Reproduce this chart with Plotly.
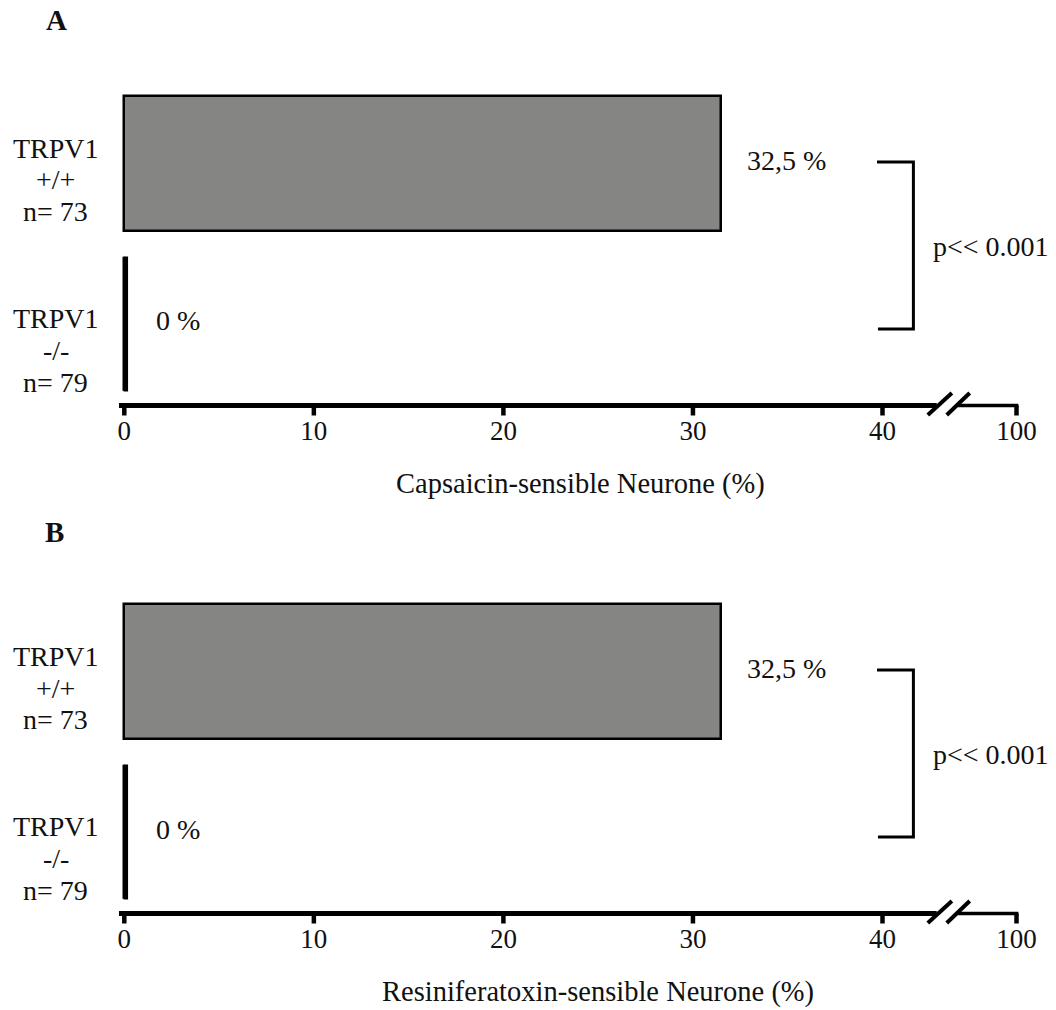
import plotly.graph_objects as go

# ---------------- data ----------------
genotypes = ["TRPV1 +/+", "TRPV1 -/-"]
n_cells = [73, 79]
genotype_pos = [1, 0]                      # vertical category positions
capsaicin_pct = [31.5, 0.0]                 # bar lengths as drawn
resiniferatoxin_pct = [31.5, 0.0]
bar_labels = ["32,5 %", "0 %"]
tick_vals = [0, 10, 20, 30, 40, 47.07]     # 100 sits after the axis break
tick_text = ["0", "10", "20", "30", "40", "100"]
p_text = "p<< 0.001"
titles = ["Capsaicin-sensible Neurone (%)", "Resiniferatoxin-sensible Neurone (%)"]
panel_letters = ["A", "B"]

# ---------------- layout constants ----------------
PAGE_W, PAGE_H = 1056, 1010
BODY = 8                      # default page margin around the plot div
W, H = PAGE_W - BODY, PAGE_H - BODY
FONT = "Liberation Serif"
PX_PER_UNIT = 18.955
X0_PX = 124.3
XMIN = -(X0_PX - BODY) / PX_PER_UNIT
XMAX = (PAGE_W - X0_PX) / PX_PER_UNIT
YMIN, YMAX = -0.5047, 1.7695
OFFSET = 508  # pixel shift of panel B
AXIS_PX = 405.5
BAR_W = 0.841
GREY = "#858583"


def px(x):
    return (x - BODY) / W


def py(y):
    return 1 - (y - BODY) / H


fig = go.Figure()

panel_data = [capsaicin_pct, resiniferatoxin_pct]
annotations = []
shapes = []

for i, vals in enumerate(panel_data):
    sfx = "" if i == 0 else "2"
    xa, ya = "x" + sfx, "y" + sfx
    off = OFFSET * i
    axis_y = py(AXIS_PX + off)

    fig.add_trace(go.Bar(
        x=vals, y=genotype_pos, orientation="h", width=BAR_W,
        marker=dict(color=GREY, line=dict(color="black", width=2.5)),
        xaxis=xa, yaxis=ya, showlegend=False, hoverinfo="x+y"))

    # zero-length bars are drawn as a thick vertical stroke
    for v, p in zip(vals, genotype_pos):
        if v == 0:
            fig.add_trace(go.Scatter(
                x=[v + 0.08, v + 0.08], y=[p - BAR_W / 2, p + BAR_W / 2],
                mode="lines", line=dict(color="black", width=4.5),
                xaxis=xa, yaxis=ya, showlegend=False, hoverinfo="skip"))

    # significance bracket between the two genotypes
    fig.add_trace(go.Scatter(
        x=[39.71, 41.63, 41.63, 39.76],
        y=[genotype_pos[0] + 0.009, genotype_pos[0] + 0.009,
           genotype_pos[1] - 0.031, genotype_pos[1] - 0.031],
        mode="lines", line=dict(color="black", width=3),
        xaxis=xa, yaxis=ya, showlegend=False, hoverinfo="skip"))

    # broken x axis line (paper y so it is not clipped by the plot area)
    shapes.append(dict(type="line", xref=xa, yref="paper", x0=-0.28, x1=42.86,
                       y0=axis_y, y1=axis_y, line=dict(color="black", width=5)))
    shapes.append(dict(type="line", xref=xa, yref="paper", x0=43.98, x1=tick_vals[-1] + 0.1,
                       y0=axis_y, y1=axis_y, line=dict(color="black", width=3.5)))
    for xa0, xa1 in [(42.39, 43.66), (43.39, 44.6)]:
        shapes.append(dict(type="line", xref=xa, yref="paper", ysizemode="pixel",
                           yanchor=axis_y, x0=xa0, x1=xa1, y0=-9.5, y1=12.5,
                           line=dict(color="black", width=4)))
    # tick marks
    for tv in tick_vals:
        shapes.append(dict(type="line", xref=xa, yref="paper", ysizemode="pixel",
                           yanchor=axis_y, x0=tv, x1=tv, y0=-10, y1=0,
                           line=dict(color="black", width=4.5)))

    # value labels
    annotations.append(dict(text=bar_labels[0], x=px(745), y=py(160 + off),
                            xanchor="left", yanchor="middle"))
    annotations.append(dict(text=bar_labels[1], x=px(154), y=py(321 + off),
                            xanchor="left", yanchor="middle"))
    annotations.append(dict(text=p_text, x=px(931), y=py(246 + off),
                            xanchor="left", yanchor="middle"))

    # genotype labels (three centred lines each)
    first_lines = [("TRPV1", 148.5), ("+/+", 180), ("n= %d" % n_cells[0], 211.5)]
    second_lines = [("TRPV1", 318.5), ("-/-", 350.5), ("n= %d" % n_cells[1], 382.5)]
    for txt, yy in first_lines + second_lines:
        annotations.append(dict(text=txt, x=px(55.5), y=py(yy + off),
                                xanchor="center", yanchor="middle"))

    # axis title
    tx = 580 if i == 0 else 598
    ty = 484 if i == 0 else 992
    annotations.append(dict(text=titles[i], x=px(tx), y=py(ty),
                            xanchor="center", yanchor="middle",
                            font=dict(family=FONT, size=28.5, color="#111")))

    # panel letter
    lx, ly = (56, 20) if i == 0 else (54, 532)
    annotations.append(dict(text="<b>%s</b>" % panel_letters[i], x=px(lx), y=py(ly),
                            xanchor="center", yanchor="middle",
                            font=dict(family=FONT, size=29, color="#111")))

for a in annotations:
    a.setdefault("font", dict(family=FONT, size=28, color="#111"))
    a.update(xref="paper", yref="paper", showarrow=False)

xaxis_common = dict(range=[XMIN, XMAX], domain=[0, 1], tickvals=tick_vals,
                    ticktext=tick_text, ticks="", ticklabelstandoff=7,
                    showgrid=False, zeroline=False, showline=False,
                    tickfont=dict(family=FONT, size=27, color="#111"), fixedrange=True)
yaxis_common = dict(range=[YMIN, YMAX], showticklabels=False, ticks="",
                    showgrid=False, zeroline=False, showline=False, fixedrange=True)

fig.update_layout(
    width=W, height=H,
    margin=dict(l=0, r=0, t=0, b=0),
    paper_bgcolor="white", plot_bgcolor="white",
    xaxis=dict(**xaxis_common, anchor="y"),
    yaxis=dict(**yaxis_common, domain=[py(405), py(40)], anchor="x"),
    xaxis2=dict(**xaxis_common, anchor="y2"),
    yaxis2=dict(**yaxis_common, domain=[py(405 + OFFSET), py(40 + OFFSET)], anchor="x2"),
    shapes=shapes, annotations=annotations, bargap=0,
)

fig.write_html("out.html")
